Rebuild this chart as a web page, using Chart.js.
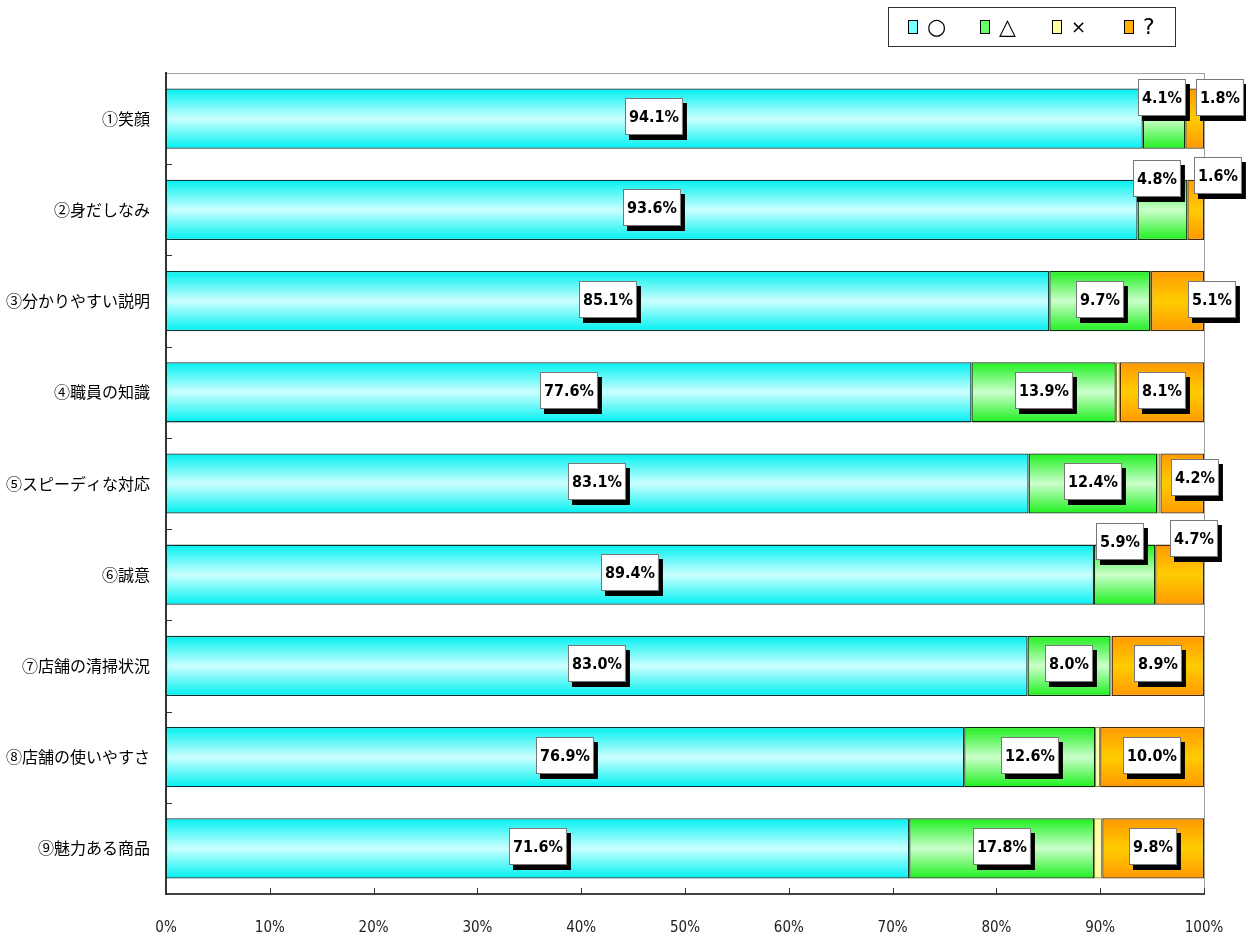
<!DOCTYPE html>
<html lang="ja">
<head>
<meta charset="utf-8">
<title>評価</title>
<script src="https://cdn.jsdelivr.net/npm/chart.js@4/dist/chart.umd.min.js"></script>
<style>
  html, body { margin: 0; padding: 0; background: #fff; }
  #wrap { width: 1246px; height: 939px; position: relative; }
</style>
</head>
<body>
<div id="wrap"><canvas id="evalChart"></canvas></div>
<script>
// --- data ---
const categories = ['①笑顔', '②身だしなみ', '③分かりやすい説明', '④職員の知識', '⑤スピーディな対応',
                    '⑥誠意', '⑦店舗の清掃状況', '⑧店舗の使いやすさ', '⑨魅力ある商品'];
const seriesNames = ['○', '△', '×', '?'];
const good   = [94.1, 93.6, 85.1, 77.6, 83.1, 89.4, 83.0, 76.9, 71.6];
const fair   = [4.1, 4.8, 9.7, 13.9, 12.4, 5.9, 8.0, 12.6, 17.8];
const bad    = [0, 0, 0.1, 0.4, 0.3, 0, 0.1, 0.5, 0.8];
const unsure = [1.8, 1.6, 5.1, 8.1, 4.2, 4.7, 8.9, 10.0, 9.8];
const xTicks = [0, 10, 20, 30, 40, 50, 60, 70, 80, 90, 100];

// label nudges where Excel moved the small labels ('dataset-index': [dx, dy])
const labelShift = {
  '1-0': [-2, -19], '3-0': [25, -19],
  '1-1': [-6, -29], '3-1': [22, -32],
  '3-2': [34, 0],
  '3-4': [13, -4],
  '1-5': [-5, -31], '3-5': [14, -34]
};

const BAR_PCT = 0.66;

// gradient per bar: saturated edges, light centre
function barFill(stops) {
  return function (ctx) {
    const chart = ctx.chart;
    const y = chart.scales.y;
    if (ctx.type !== 'data' || !y || !chart.chartArea) return stops[1];
    const cy = y.getPixelForValue(ctx.dataIndex);
    const half = (y.height / categories.length) * BAR_PCT / 2;
    const g = chart.ctx.createLinearGradient(0, cy - half, 0, cy + half);
    g.addColorStop(0, stops[0]);
    g.addColorStop(0.5, stops[1]);
    g.addColorStop(1, stops[0]);
    return g;
  };
}

const palette = [
  { stops: ['#00f0f0', '#ccffff'], border: '#063333', legend: '#7ff' },
  { stops: ['#1ef01e', '#ccffcc'], border: '#062e06', legend: '#6f6' },
  { stops: ['#ffff99', '#ffffb0'], border: '#8a8a40', legend: '#ffffa0' },
  { stops: ['#ff9900', '#ffcc00'], border: '#4a2800', legend: '#ffb000' }
];

const seriesData = [good, fair, bad, unsure];

const datasets = seriesData.map((vals, i) => ({
  label: seriesNames[i],
  data: vals,
  backgroundColor: barFill(palette[i].stops),
  borderColor: palette[i].border,
  borderWidth: ctx => (ctx.raw ? 1.3 : 0),
  borderSkipped: false,
  barPercentage: BAR_PCT,
  categoryPercentage: 1
}));

// gray frame on top/right of plot area
const frame = {
  id: 'frame',
  beforeDraw(chart) {
    const { ctx, chartArea: a } = chart;
    ctx.save();
    ctx.fillStyle = '#fff';
    ctx.fillRect(0, 0, chart.width, chart.height);
    ctx.strokeStyle = '#a0a0a0';
    ctx.lineWidth = 1;
    ctx.strokeRect(a.left + 0.5, a.top + 0.5, a.width, a.height);
    ctx.restore();
  }
};

// inside tick marks
const innerTicks = {
  id: 'innerTicks',
  afterDraw(chart) {
    const { ctx, chartArea: a, scales } = chart;
    ctx.save();
    ctx.strokeStyle = '#333';
    ctx.lineWidth = 1;
    ctx.beginPath();
    xTicks.forEach(v => {
      const px = Math.round(scales.x.getPixelForValue(v)) + 0.5;
      ctx.moveTo(px, a.bottom);
      ctx.lineTo(px, a.bottom - 6);
    });
    const band = a.height / categories.length;
    for (let k = 1; k < categories.length; k++) {
      const py = Math.round(a.top + k * band) + 0.5;
      ctx.moveTo(a.left, py);
      ctx.lineTo(a.left + 6, py);
    }
    ctx.stroke();
    ctx.restore();
  }
};

// boxed value labels with black drop shadow
const valueLabels = {
  id: 'valueLabels',
  afterDatasetsDraw(chart) {
    const ctx = chart.ctx;
    ctx.save();
    ctx.font = 'bold 16px "DejaVu Sans Condensed", "DejaVu Sans", sans-serif';
    ctx.textAlign = 'center';
    ctx.textBaseline = 'middle';
    chart.data.datasets.forEach((ds, di) => {
      if (di === 2) return;
      chart.getDatasetMeta(di).data.forEach((bar, i) => {
        const v = ds.data[i];
        if (!v) return;
        const txt = v.toFixed(1) + '%';
        const sh = labelShift[di + '-' + i] || [0, 0];
        const x = (bar.x + bar.base) / 2 + sh[0];
        const y = bar.y - 2 + sh[1];
        const w = ctx.measureText(txt).width + 8;
        const h = 37;
        const l = Math.round(x - w / 2), t = Math.round(y - h / 2);
        ctx.fillStyle = '#000';
        ctx.fillRect(l + 4, t + 5, w, h);
        ctx.fillStyle = '#fff';
        ctx.fillRect(l, t, w, h);
        ctx.strokeStyle = '#777';
        ctx.lineWidth = 1;
        ctx.strokeRect(l + 0.5, t + 0.5, w - 1, h - 1);
        ctx.fillStyle = '#000';
        ctx.fillText(txt, l + w / 2, t + h / 2 + 1);
      });
    });
    ctx.restore();
  }
};

// framed legend at top right
const boxLegend = {
  id: 'boxLegend',
  afterDraw(chart) {
    const ctx = chart.ctx;
    ctx.save();
    ctx.strokeStyle = '#333';
    ctx.lineWidth = 1;
    ctx.strokeRect(888.5, 7.5, 287, 39);
    ctx.textBaseline = 'middle';
    ctx.textAlign = 'left';
    chart.data.datasets.forEach((ds, i) => {
      const sx = 908 + i * 72;
      ctx.fillStyle = palette[i].legend;
      ctx.fillRect(sx, 20, 9, 13);
      ctx.strokeStyle = '#000';
      ctx.strokeRect(sx + 0.5, 20.5, 9, 13);
      ctx.fillStyle = '#000';
      ctx.font = (i === 2 ? '18px' : '22px') + ' "DejaVu Sans", sans-serif';
      ctx.fillText(ds.label, sx + 19, 28);
    });
    ctx.restore();
  }
};

new Chart(document.getElementById('evalChart').getContext('2d'), {
  type: 'bar',
  data: { labels: categories, datasets: datasets },
  options: {
    indexAxis: 'y',
    responsive: true,
    maintainAspectRatio: false,
    animation: false,
    layout: { padding: { top: 73, right: 42, left: 0, bottom: 0 } },
    plugins: {
      legend: { display: false },
      tooltip: { enabled: false }
    },
    scales: {
      x: {
        stacked: true,
        min: 0,
        max: 100,
        afterFit: s => { s.height = 45; s.paddingLeft = 0; s.paddingRight = 0; },
        afterBuildTicks: s => { s.ticks = xTicks.map(v => ({ value: v })); },
        grid: { display: false, drawTicks: false },
        border: { display: true, color: '#444', width: 2 },
        ticks: {
          autoSkip: false,
          maxRotation: 0,
          padding: 25,
          color: '#222',
          font: { family: '"DejaVu Sans Condensed", "DejaVu Sans", sans-serif', size: 15 },
          callback: v => v + '%'
        }
      },
      y: {
        stacked: true,
        afterFit: s => { s.width = 166; },
        grid: { display: false, drawTicks: false },
        border: { display: true, color: '#333', width: 2 },
        ticks: {
          padding: 16,
          color: '#000',
          font: { family: '"Noto Sans CJK JP", sans-serif', size: 16 }
        }
      }
    }
  },
  plugins: [frame, innerTicks, valueLabels, boxLegend]
});
</script>
</body>
</html>
